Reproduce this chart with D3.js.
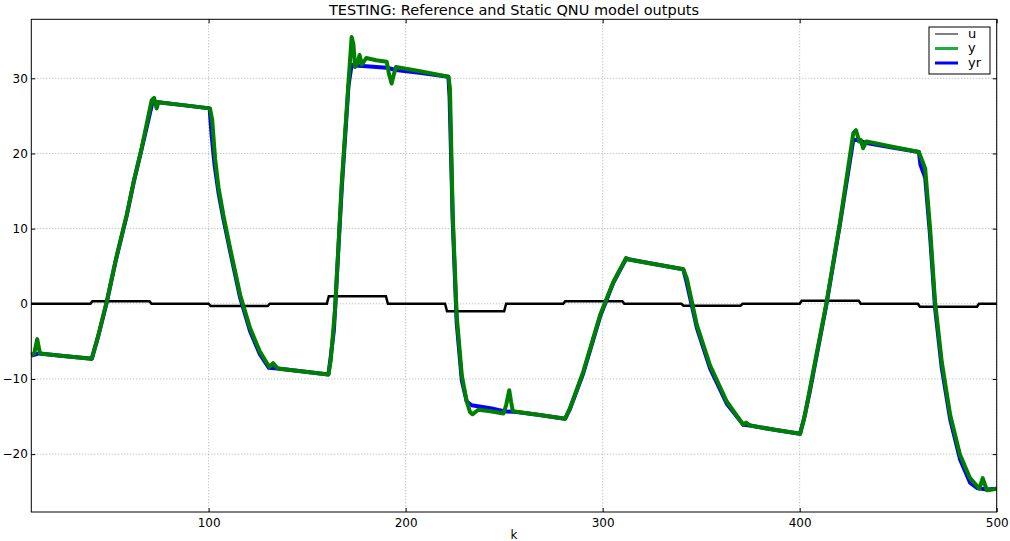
<!DOCTYPE html>
<meta charset="utf-8">
<style>
body { margin: 0; background: #fff; }
#grafico text {
  font-family: "DejaVu Sans", sans-serif;
  fill: #000;
}
.grid line {
  stroke: #999;
  stroke-width: 0.8;
  stroke-dasharray: 1,2;
}
.eje path { display: none; }
.eje line { stroke: #000; }
</style>
<svg id="grafico"></svg>
<script src="https://d3js.org/d3.v7.min.js"></script>
<script>

// entrada u (escalones)
var kU = [10, 40, 41, 70, 71, 100, 101, 130, 131, 160, 161, 190, 191, 220, 221, 250,
          251, 280, 281, 310, 311, 340, 341, 370, 371, 400, 401, 430, 431, 460, 461, 490, 491, 500];
var uVals = [0, 0, 0.35, 0.35, 0, 0, -0.3, -0.3, 0, 0, 1, 1, 0, 0, -1, -1,
             0, 0, 0.35, 0.35, 0, 0, -0.25, -0.25, 0, 0, 0.4, 0.4, 0, 0, -0.4, -0.4, 0, 0];

// salida del modelo QNU (y)
var kY = [10, 11.5, 13, 14.4, 25, 40.7, 44, 48.3, 53, 58.4, 62, 66, 71.1, 72.3, 73.6, 74.5,
          88, 100.7, 101.8, 103.3, 105, 107.5, 110.9, 116, 121, 126.1, 130.8, 132.7, 135, 148,
          160.8, 162, 164.2, 167.6, 171, 172.6, 173.5, 174.3, 175.5, 176.6, 177.8, 180, 185,
          190.4, 191.6, 192.9, 194, 195.1, 208, 221.7, 222.5, 223.9, 225.9, 228.5, 231, 232.7,
          233.9, 236.9, 243, 249.6, 251, 252.6, 253.5, 254.4, 268, 280.9, 283.4, 290.2, 298.7,
          305.4, 311.9, 313, 326, 340.9, 342.7, 347.8, 354.5, 363, 371.4, 372.8, 374.8, 388,
          400.2, 402.7, 405.2, 413.7, 420.5, 427.2, 428.6, 430.2, 431, 432.2, 433.9, 447, 460.5,
          461.5, 463.7, 466.2, 468.7, 472.1, 476.4, 481.4, 486.5, 491.2, 492.9, 495, 500];
var yVals = [-6.8, -6.6, -4.7, -6.6, -6.9, -7.3, -4.2, 0.3, 6, 11.8, 16.3, 20.7, 27.1, 27.4, 26.0, 26.8,
             26.4, 26.0, 24.5, 19.3, 15.5, 11.8, 7.4, 1.2, -3.2, -6.4, -8.4, -7.9, -8.6, -9.0,
             -9.4, -7.5, -0.6, 16.2, 29.5, 35.5, 34.5, 31.5, 32.0, 33.1, 31.8, 32.7, 32.4,
             32.2, 30.5, 29.3, 30.5, 31.5, 30.9, 30.2, 28.7, 11.8, -1.5, -9.5, -13.0, -14.4,
             -14.7, -14.1, -14.3, -14.6, -13.5, -11.5, -13.0, -14.3, -14.8, -15.3, -13.9, -9.0, -1.5,
             2.9, 6.1, 5.9, 5.3, 4.6, 3.4, -2.8, -8.2, -13.0, -16.1, -15.8, -16.2, -16.8,
             -17.3, -14.8, -11.3, 0.3, 10.9, 22.7, 23.1, 21.6, 21.8, 20.7, 21.6, 20.9, 20.2,
             19.5, 18.0, 10.0, 0.3, -7.7, -14.8, -20.1, -23.2, -24.6, -23.2, -24.8, -24.6];

// salida de referencia (yr)
var kYr = [10, 14, 25, 40.7, 44, 48.3, 53, 58.4, 62, 66, 71.5, 74.5, 88, 100.5, 101.5, 103,
           105, 107.5, 110.9, 116, 121, 126, 130.5, 135, 148, 160.8, 162, 163.6, 167.6, 171,
           172.6, 174, 180, 190.4, 195.1, 208, 221.7, 222.3, 223.9, 225.9, 228.5, 231, 233.5,
           243, 250, 256.4, 268, 280.9, 283.4, 290.2, 298.7, 305.4, 311.9, 326, 340.9, 342.5,
           347.8, 354.5, 363, 371.4, 374.8, 388, 400.2, 402, 405.2, 413.7, 420.5, 427.2, 428.6,
           433.9, 447, 460.5, 461.3, 463.7, 466.2, 468.7, 472.1, 476.4, 481.4, 486.5, 490, 495, 500];
var yrVals = [-6.9, -6.6, -6.9, -7.3, -4.3, 0.2, 5.9, 11.7, 16.2, 20.6, 26.8, 26.8, 26.4, 26.0, 22.5, 18.5,
              14.8, 11.3, 7.0, 0.8, -3.6, -6.7, -8.5, -8.6, -9.0, -9.4, -7.0, -3.5, 15.5, 29.0,
              31.8, 31.7, 31.6, 31.4, 31.1, 30.7, 30.2, 27.5, 11.0, -2.5, -10.2, -13.0, -13.5,
              -13.9, -14.3, -14.4, -14.8, -15.3, -14.0, -9.2, -1.7, 2.8, 6.0, 5.3, 4.6, 3.0,
              -3.2, -8.6, -13.3, -16.1, -16.2, -16.8, -17.3, -15.5, -11.6, 0.1, 10.7, 21.8, 21.8,
              21.4, 20.8, 20.2, 18.5, 16.8, 9.0, -0.5, -8.5, -15.4, -20.7, -23.8, -24.5, -24.7, -24.6];

var xTicks = [100, 200, 300, 400, 500];
var yTicks = [-20, -10, 0, 10, 20, 30];
var serieNombres = ["u", "y", "yr"];

var width = 1010,
    height = 541,
    margin = {top: 19.3, right: 13.3, bottom: 29, left: 31.3};

var svg = d3.select("#grafico")
    .attr("width", width)
    .attr("height", height);

var x = d3.scaleLinear()
    .domain([10, 500])
    .range([margin.left, width - margin.right]);

var y = d3.scaleLinear()
    .domain([-27.7, 37.85])
    .range([height - margin.bottom, margin.top]);

var fmt = function(d) { return d < 0 ? "\u2212" + Math.abs(d) : d; };

// rejilla punteada
svg.append("g").attr("class", "grid")
  .selectAll("line").data(xTicks)
  .enter().append("line")
    .attr("x1", function(d) { return x(d); })
    .attr("x2", function(d) { return x(d); })
    .attr("y1", y.range()[1])
    .attr("y2", y.range()[0]);

svg.append("g").attr("class", "grid")
  .selectAll("line").data(yTicks)
  .enter().append("line")
    .attr("x1", x.range()[0])
    .attr("x2", x.range()[1])
    .attr("y1", function(d) { return y(d); })
    .attr("y2", function(d) { return y(d); });

// lineas
var linea = function(ks, vs) {
  return d3.line()
      .x(function(d, i) { return x(ks[i]); })
      .y(function(d) { return y(d); })(vs);
};

svg.append("path")
    .attr("d", linea(kU, uVals))
    .attr("fill", "none")
    .attr("stroke", "#000")
    .attr("stroke-width", 2.5);

svg.append("path")
    .attr("d", linea(kYr, yrVals))
    .attr("fill", "none")
    .attr("stroke", "#0000ff")
    .attr("stroke-width", 4)
    .attr("stroke-linejoin", "round");

svg.append("path")
    .attr("d", linea(kY, yVals))
    .attr("fill", "none")
    .attr("stroke", "#008000")
    .attr("stroke-width", 4)
    .attr("stroke-linejoin", "round");

// ejes con marcas hacia dentro en los cuatro lados
var plotH = y.range()[0] - y.range()[1],
    plotW = x.range()[1] - x.range()[0];

svg.append("g").attr("class", "eje")
    .attr("transform", "translate(0," + y.range()[0] + ")")
    .call(d3.axisBottom(x).tickValues(xTicks).tickSize(-4).tickPadding(6).tickFormat(fmt))
    .selectAll("text").attr("font-size", 12);

svg.append("g").attr("class", "eje")
    .attr("transform", "translate(0," + y.range()[1] + ")")
    .call(d3.axisTop(x).tickValues(xTicks).tickSize(-4).tickFormat(""));

svg.append("g").attr("class", "eje")
    .attr("transform", "translate(" + x.range()[0] + ",0)")
    .call(d3.axisLeft(y).tickValues(yTicks).tickSize(-4).tickPadding(3.5).tickFormat(fmt))
    .selectAll("text").attr("font-size", 12);

svg.append("g").attr("class", "eje")
    .attr("transform", "translate(" + x.range()[1] + ",0)")
    .call(d3.axisRight(y).tickValues(yTicks).tickSize(-4).tickFormat(""));

svg.selectAll(".eje text").attr("font-family", "DejaVu Sans").attr("fill", "#000");

svg.append("rect")
    .attr("x", x.range()[0])
    .attr("y", y.range()[1])
    .attr("width", plotW)
    .attr("height", plotH)
    .attr("fill", "none")
    .attr("stroke", "#000")
    .attr("stroke-width", 1);

// titulo y etiqueta
svg.append("text")
    .attr("x", (x.range()[0] + x.range()[1]) / 2)
    .attr("y", 15)
    .attr("text-anchor", "middle")
    .attr("font-size", 14.5)
    .text("TESTING: Reference and Static QNU model outputs");

svg.append("text")
    .attr("x", (x.range()[0] + x.range()[1]) / 2)
    .attr("y", 539)
    .attr("text-anchor", "middle")
    .attr("font-size", 12)
    .text("k");

// leyenda
var leyenda = svg.append("g").attr("transform", "translate(929,27)");

leyenda.append("rect")
    .attr("width", 61)
    .attr("height", 47)
    .attr("fill", "#fff")
    .attr("stroke", "#000")
    .attr("stroke-width", 1);

var colores = ["#000", "#22aa44", "#0000ff"],
    grosores = [1, 3, 3];

var item = leyenda.selectAll(".item")
    .data(serieNombres)
  .enter().append("g")
    .attr("transform", function(d, i) { return "translate(0," + (7 + i * 14.5) + ")"; });

item.append("line")
    .attr("x1", 6)
    .attr("x2", 29)
    .attr("stroke", function(d, i) { return colores[i]; })
    .attr("stroke-width", function(d, i) { return grosores[i]; });

item.append("text")
    .attr("x", 39)
    .attr("dy", "0.3em")
    .attr("font-size", 13)
    .text(function(d) { return d; });

</script>
